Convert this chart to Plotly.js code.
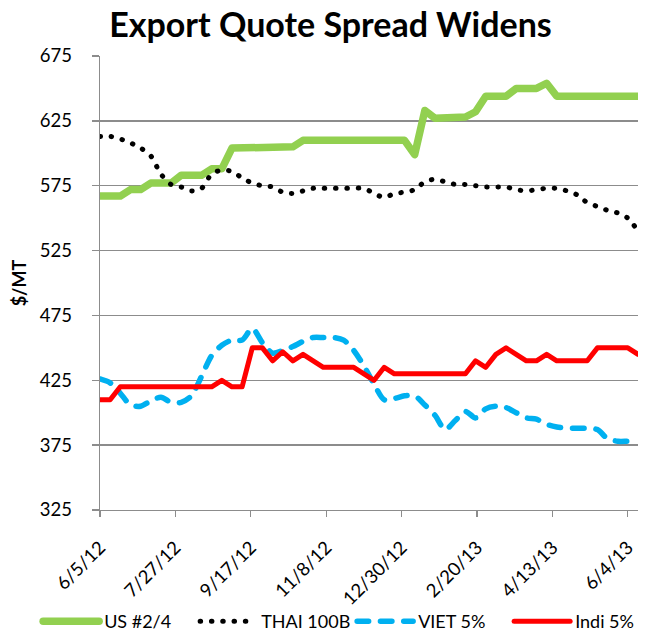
<!DOCTYPE html>
<html>
<head>
<meta charset="utf-8">
<script src="https://cdn.plot.ly/plotly-3.0.1.min.js"></script>
<style>
  html, body { margin: 0; padding: 0; background: #ffffff; }
  #chart { width: 661px; height: 632px; }
  path.js-line { stroke-linecap: round !important; stroke-linejoin: round !important; }
</style>
</head>
<body>
<div id="chart"></div>
<script>
// Weekly quote dates
const dates = [
  '2012-06-05','2012-06-12','2012-06-19','2012-06-26','2012-07-03','2012-07-10','2012-07-17','2012-07-24','2012-07-31',
  '2012-08-07','2012-08-14','2012-08-21','2012-08-28','2012-09-04','2012-09-11','2012-09-18','2012-09-25',
  '2012-10-02','2012-10-09','2012-10-16','2012-10-23','2012-10-30','2012-11-06','2012-11-13','2012-11-20','2012-11-27',
  '2012-12-04','2012-12-11','2012-12-18','2012-12-25','2013-01-01','2013-01-08','2013-01-15','2013-01-22','2013-01-29',
  '2013-02-05','2013-02-12','2013-02-19','2013-02-26','2013-03-05','2013-03-12','2013-03-19','2013-03-26',
  '2013-04-02','2013-04-09','2013-04-16','2013-04-23','2013-04-30','2013-05-07','2013-05-14','2013-05-21','2013-05-28',
  '2013-06-04','2013-06-11'
];

// Series values ($/MT)
const us24 = [567,567,567,572,572,577,577,577,583,583,583,588,588,604,604,604,605,605,605,605,
              610,610,610,610,610,610,610,610,610,610,610,599,633,627,627,627,628,632,644,644,
              644,650,650,650,654,644,644,644,644,644,644,644,644,644];
const thai100b = [613,613,611,608,604,598,584,576,574,571,573,584,587,586,581,577,575,574,570,569,
                  571,573,573,573,573,573,573,569,566,569,570,572,578,580,578,576,576,575,574,574,
                  574,572,571,572,573,573,571,568,562,559,556,554,550,540];
const viet5 = [426,423,415,406,405,409,412,408,408,413,428,444,452,456,456,465,454,446,448,451,
               455,458,458,458,456,448,436,422,410,411,413,413,406,398,387,394,401,396,403,405,
               404,400,396,395,391,389,388,388,388,387,380,378,378,378];
const indi5 = [410,410,420,420,420,420,420,420,420,420,420,420,425,420,420,450,450,440,447,440,
               445,440,435,435,435,435,430,425,435,430,430,430,430,430,430,430,430,440,435,445,
               450,445,440,440,445,440,440,440,440,450,450,450,450,445];

// Axis ticks
const xTickVals = ['2012-06-05','2012-07-27','2012-09-17','2012-11-08','2012-12-30','2013-02-20','2013-04-13','2013-06-04'];
const xTickText = ['6/5/12','7/27/12','9/17/12','11/8/12','12/30/12','2/20/13','4/13/13','6/4/13'];
const yTickVals = [325,375,425,475,525,575,625,675];

const FONT = 'Lato, "Open Sans", "DejaVu Sans", sans-serif';

const traces = [
  { x: dates, y: us24, name: 'US #2/4', type: 'scatter', mode: 'lines',
    line: { color: '#92D050', width: 7.5 } },
  { x: dates, y: thai100b, name: 'THAI 100B', type: 'scatter', mode: 'lines',
    line: { color: '#000000', width: 5, dash: '0.5px,10.8px', shape: 'spline', smoothing: 0.8 } },
  { x: dates, y: viet5, name: 'VIET 5%', type: 'scatter', mode: 'lines',
    line: { color: '#00B0F0', width: 5.5, dash: '11.5px,11.8px', shape: 'spline', smoothing: 0.8 } },
  { x: dates, y: indi5, name: 'Indi 5%', type: 'scatter', mode: 'lines',
    line: { color: '#FF0000', width: 5 } }
];

const layout = {
  width: 661, height: 632,
  margin: { l: 100, r: 23, t: 56, b: 122, autoexpand: false },
  paper_bgcolor: '#ffffff', plot_bgcolor: '#ffffff',
  font: { family: FONT, size: 18, color: '#000000' },
  title: {
    text: '<b>Export Quote Spread Widens</b>',
    font: { family: FONT, size: 34, color: '#000000' },
    x: 0.5, xref: 'container', xanchor: 'center',
    y: 1 - 25/632, yref: 'container', yanchor: 'middle'
  },
  xaxis: {
    type: 'date',
    range: ['2012-06-05', '2013-06-11'],
    tickmode: 'array', tickvals: xTickVals, ticktext: xTickText,
    tickangle: -45,
    ticks: 'outside', ticklen: 6, tickcolor: '#8c8c8c', tickwidth: 1.3,
    showline: true, linecolor: '#8c8c8c', linewidth: 1.3,
    showgrid: false, zeroline: false,
    ticklabelstandoff: 12,
    tickfont: { family: FONT, size: 18.5, color: '#000000' }
  },
  yaxis: {
    range: [325, 675],
    tickmode: 'array', tickvals: yTickVals,
    ticks: 'outside', ticklen: 7, tickcolor: '#8c8c8c', tickwidth: 1.3,
    showline: true, linecolor: '#8c8c8c', linewidth: 1.3,
    showgrid: true, gridcolor: '#8c8c8c', gridwidth: 1.3,
    zeroline: false,
    ticklabelstandoff: 16,
    tickfont: { family: FONT, size: 18.5, color: '#000000' },
    title: { text: '<b>$/MT</b>', font: { family: FONT, size: 18, color: '#000000' }, standoff: 8 }
  },
  showlegend: true,
  legend: {
    orientation: 'h',
    xref: 'paper', yref: 'paper',
    x: -0.115, xanchor: 'left',
    y: -0.2048, yanchor: 'top',
    font: { family: FONT, size: 18, color: '#000000' },
    itemwidth: 56,
    entrywidth: 86,
    bgcolor: 'rgba(0,0,0,0)',
    traceorder: 'normal'
  }
};

Plotly.newPlot('chart', traces, layout, { displayModeBar: false, staticPlot: true });
</script>
</body>
</html>
